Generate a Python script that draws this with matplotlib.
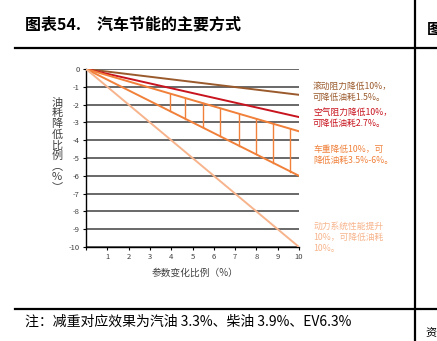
import matplotlib
matplotlib.use("Agg")
import matplotlib.pyplot as plt
import numpy as np

plt.rcParams['font.family'] = ['Noto Sans CJK SC', 'DejaVu Sans']

# data
x_range = [0, 10]
rolling_end = -1.45      # 滚动阻力
air_end = -2.7           # 空气阻力
weight_low_end = -3.5    # 车重 (upper)
weight_high_end = -6.0   # 车重 (lower)
power_end = -10.0        # 动力系统
hatch_x = [3.94, 4.67, 5.47, 6.3, 7.19, 8.0, 8.8, 9.6]
y_ticks = list(range(0, -11, -1))
x_ticks = list(range(1, 11))

c_brown = '#9A5A2C'
c_red = '#C8141E'
c_orange = '#F0803A'
c_light = '#F7B48C'

W, H = 437, 341
fig = plt.figure(figsize=(W/100, H/100), dpi=100)

def px(x0, y0, x1, y1):
    return [x0/W, 1 - y1/H, (x1-x0)/W, (y1-y0)/H]

# frame lines
fig.add_artist(plt.Line2D([15/W, 1], [1-48/H, 1-48/H], color='black', lw=1.6))
fig.add_artist(plt.Line2D([15/W, 1], [1-309/H, 1-309/H], color='black', lw=1.6))
fig.add_artist(plt.Line2D([415/W, 415/W], [0, 1], color='black', lw=1.6))
fig.text(25/W, 1-25/H, '图表54.\u3000汽车节能的主要方式', fontsize=11.5, fontweight='bold', va='center', ha='left')
fig.text(427/W, 1-29/H, '图', fontsize=11, fontweight='bold', va='center', ha='left')
fig.text(25/W, 1-322/H, '注：减重对应效果为汽油 3.3%、柴油 3.9%、EV6.3%', fontsize=10, va='center', ha='left')
fig.text(425/W, 1-334/H, '资', fontsize=8, va='center', ha='left')

ax = fig.add_axes(px(86, 69, 299, 247))
ax.set_xlim(0, 10)
ax.set_ylim(-10, 0)
for yv in y_ticks:
    ax.axhline(yv, color='#404040', lw=1.1, zorder=1)

xs = np.array(x_range, dtype=float)
ax.plot(xs, xs/10*rolling_end, color=c_brown, lw=1.4, zorder=3)
ax.plot(xs, xs/10*air_end, color=c_red, lw=1.4, zorder=3)
ax.plot(xs, xs/10*weight_low_end, color=c_orange, lw=1.4, zorder=3)
ax.plot(xs, xs/10*weight_high_end, color=c_orange, lw=1.4, zorder=3)
ax.plot(xs, xs/10*power_end, color=c_light, lw=1.4, zorder=3)
for hx in hatch_x:
    ax.plot([hx, hx], [hx/10*weight_low_end, hx/10*weight_high_end], color=c_orange, lw=1.0, zorder=3)

ax.set_yticks(y_ticks)
ax.set_yticklabels([str(v) for v in y_ticks])
ax.set_xticks(np.arange(0, 10.01, 1))
ax.set_xticklabels([''] + [str(v) for v in x_ticks])
ax.tick_params(axis='both', labelsize=5.5, colors='black', labelcolor='#404040', length=2.5, width=0.8, pad=2)
for s in ['top', 'right']:
    ax.spines[s].set_visible(False)
ax.spines['left'].set_color('black')
ax.spines['bottom'].set_color('black')
ax.spines['left'].set_linewidth(1.0)
ax.spines['bottom'].set_linewidth(1.0)
ax.set_facecolor('none')

fig.text(195/W, 1-273/H, '参数变化比例（%）', fontsize=7, color='#404040', ha='center', va='center')
ylab = '油\n耗\n降\n低\n比\n例\n︵\n%\n︶'
fig.text(57/W, 1-145/H, ylab, fontsize=8, color='#404040', ha='center', va='center', linespacing=1.05)

ann = [
    (87, '滚动阻力降低10%，\n可降低油耗1.5%。', c_brown),
    (113, '空气阻力降低10%，\n可降低油耗2.7%。', c_red),
    (150, '车重降低10%，可\n降低油耗3.5%-6%。', c_orange),
    (227, '动力系统性能提升\n10%，可降低油耗\n10%。', c_light),
]
for y, t, c in ann:
    fig.text(313/W, 1-(y-5)/H, t, fontsize=6.3, color=c, ha='left', va='top', linespacing=1.3)

fig.savefig('out.png', dpi=100)
